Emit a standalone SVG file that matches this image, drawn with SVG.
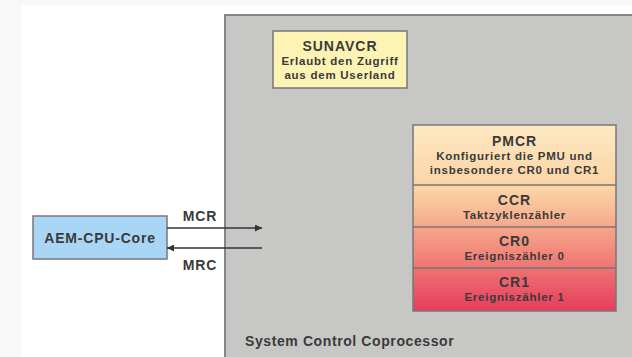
<svg xmlns="http://www.w3.org/2000/svg" width="632" height="357" viewBox="0 0 632 357">
<defs>
<style>
.t{font-family:"Liberation Sans",Arial,sans-serif;font-weight:bold;fill:#3a3a3a;text-anchor:middle}
.h{font-size:14px;letter-spacing:1px}
.s{font-size:11.5px;letter-spacing:0.75px}
.m{font-size:14px;letter-spacing:0.8px}
.box{stroke:#777;stroke-width:1.5}
.conn{stroke:#333;stroke-width:1.6;fill:none}
</style>
<linearGradient id="stack" x1="0" y1="0" x2="0" y2="1">
<stop offset="0" stop-color="#fde8c2"/>
<stop offset="0.35" stop-color="#fbd3a4"/>
<stop offset="0.65" stop-color="#f3907f"/>
<stop offset="1" stop-color="#e63c5c"/>
</linearGradient>
<marker id="ah" viewBox="0 0 10 10" refX="10" refY="5" markerWidth="7" markerHeight="7" markerUnits="userSpaceOnUse" orient="auto">
<path d="M0,0 L10,5 L0,10 z" fill="#333"/>
</marker>
</defs>
<rect x="0" y="0" width="632" height="357" fill="#f8f8f8"/>
<rect x="22" y="5" width="610" height="352" fill="#ffffff"/>
<g id="scp">
<rect x="225" y="15" width="420" height="360" fill="#c7c8c6" stroke="#868686" stroke-width="2"/>
<text class="t" x="245" y="346" style="text-anchor:start;font-size:14px;letter-spacing:0.6px">System Control Coprocessor</text>
</g>
<g id="sunavcr">
<rect class="box" x="273" y="31" width="134" height="57" fill="#fdf3b5" stroke="#6e6e6e" stroke-width="2"/>
<text class="t h" x="340" y="50.5">SUNAVCR</text>
<text class="t s" x="340" y="64.5">Erlaubt den Zugriff</text>
<text class="t s" x="340" y="78.5">aus dem Userland</text>
</g>
<g id="stack-regs">
<rect class="box" x="413" y="125" width="203" height="186" fill="url(#stack)"/>
<line x1="413" y1="185" x2="616" y2="185" stroke="#777" stroke-width="1.5"/>
<line x1="413" y1="227" x2="616" y2="227" stroke="#777" stroke-width="1.5"/>
<line x1="413" y1="268" x2="616" y2="268" stroke="#777" stroke-width="1.5"/>
</g>
<g id="pmcr">
<text class="t h" x="514.5" y="145.5">PMCR</text>
<text class="t s" x="514.5" y="160">Konfiguriert die PMU und</text>
<text class="t s" x="514.5" y="174">insbesondere CR0 und CR1</text>
</g>
<g id="ccr">
<text class="t h" x="514.5" y="204.5">CCR</text>
<text class="t s" x="514.5" y="218.5">Taktzyklenzähler</text>
</g>
<g id="cr0">
<text class="t h" x="514.5" y="245.5">CR0</text>
<text class="t s" x="514.5" y="259.5">Ereigniszähler 0</text>
</g>
<g id="cr1">
<text class="t h" x="514.5" y="286.5">CR1</text>
<text class="t s" x="514.5" y="300.5">Ereigniszähler 1</text>
</g>
<g id="aem">
<rect class="box" x="33" y="216" width="134" height="43" fill="#a9d6f4"/>
<text class="t m" x="100" y="243">AEM-CPU-Core</text>
</g>
<g id="connectors">
<line class="conn" x1="167" y1="228" x2="262" y2="228" marker-end="url(#ah)"/>
<line class="conn" x1="262" y1="248" x2="167" y2="248" marker-end="url(#ah)"/>
<text class="t m" x="200" y="221">MCR</text>
<text class="t m" x="200" y="270">MRC</text>
</g>
</svg>
